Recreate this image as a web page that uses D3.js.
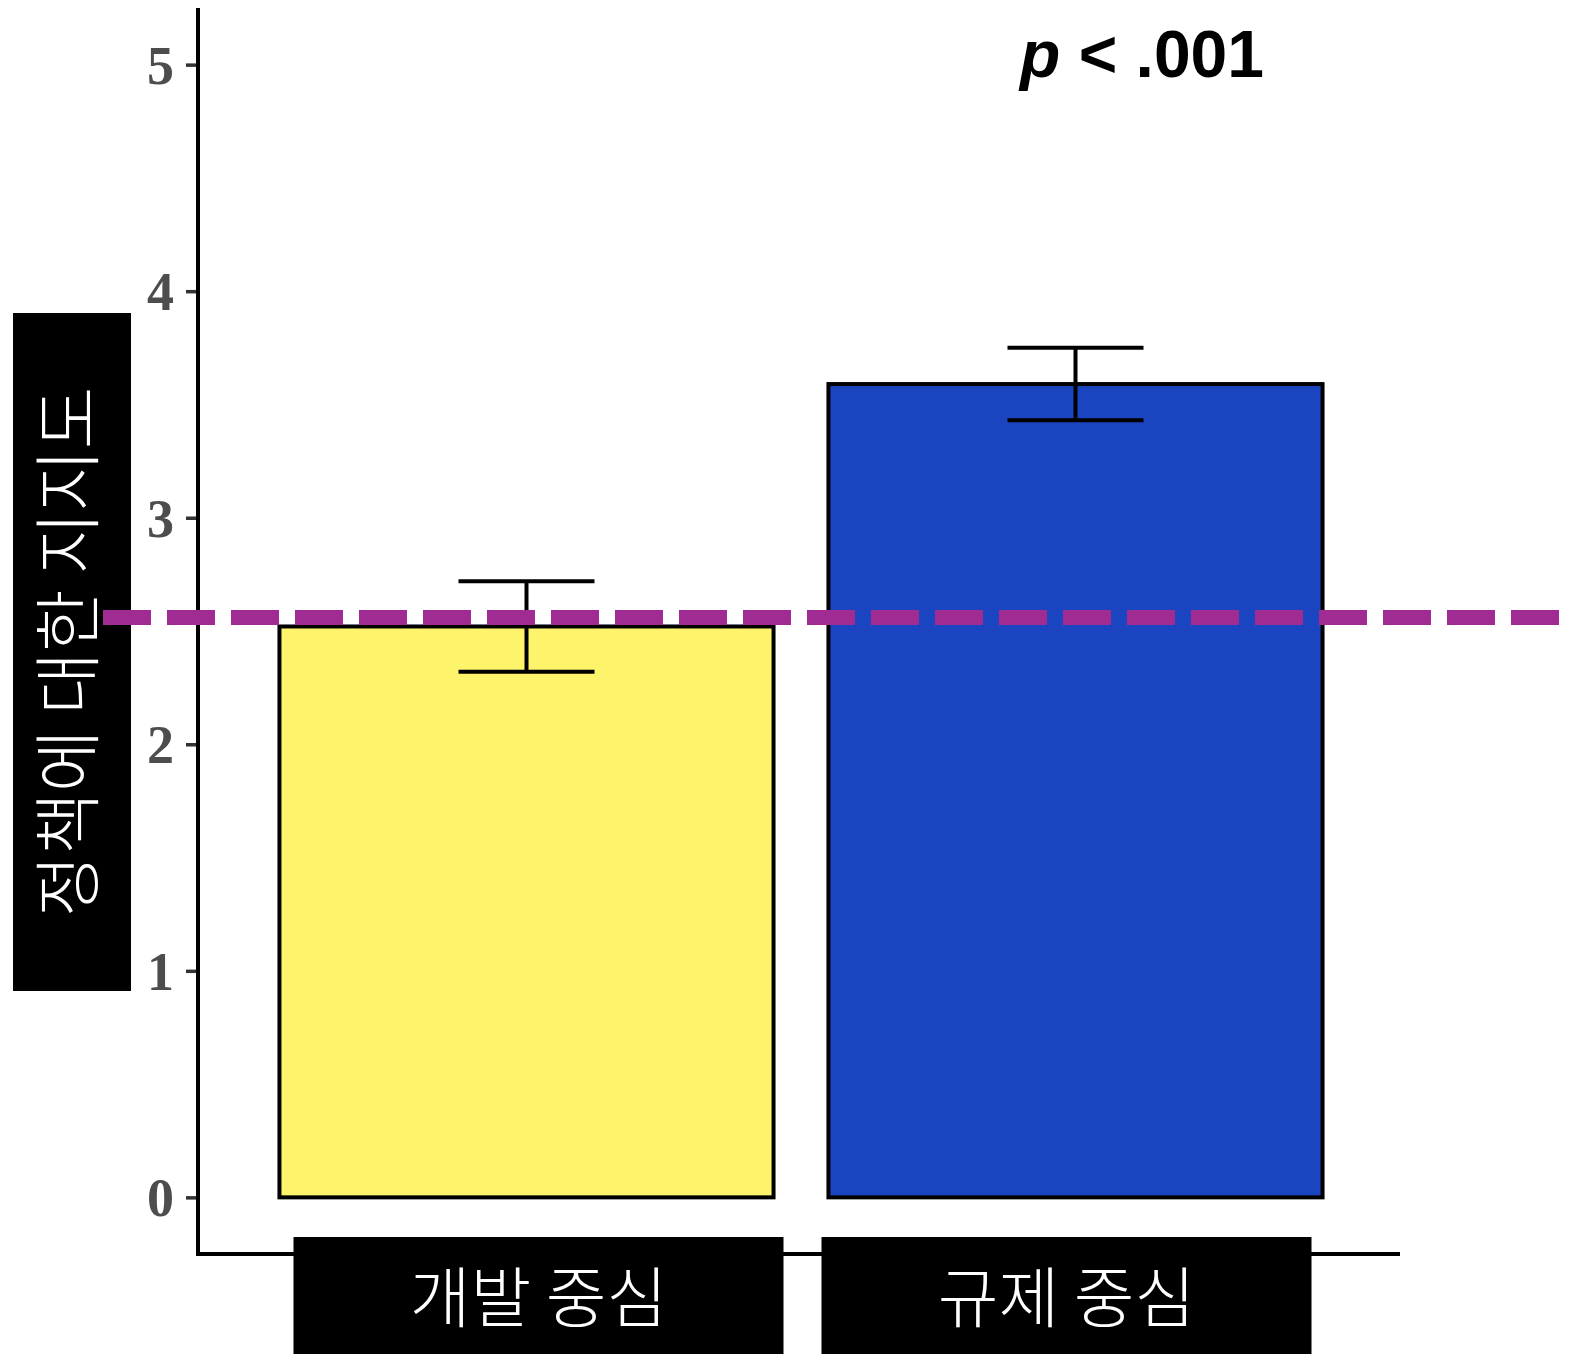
<!DOCTYPE html>
<html>
<head>
<meta charset="utf-8">
<script src="https://cdn.jsdelivr.net/npm/d3@7"></script>
<style>
  body { margin: 0; background: #fff; }
</style>
</head>
<body>
<script>
const categories = ['개발 중심', '규제 중심'];
const means = [2.52, 3.59];
const seLow = [2.32, 3.43];
const seHigh = [2.72, 3.75];
const barColors = ['#fdf46b', '#1b45c0'];
const yTicks = [0, 1, 2, 3, 4, 5];
const refLine = 2.56;
const yTitle = '정책에 대한 지지도';

const svg = d3.select('body').append('svg')
  .attr('width', 1570)
  .attr('height', 1354);

const y = d3.scaleLinear().domain([-0.25, 5.25]).range([1254, 8]);
const x = d3.scaleBand().domain(categories).range([252, 1350])
  .paddingInner(0.1).paddingOuter(0.05);

// bars
svg.selectAll('rect.bar')
  .data(categories)
  .enter()
  .append('rect')
  .attr('class', 'bar')
  .attr('x', d => x(d))
  .attr('y', (d, i) => y(means[i]))
  .attr('width', x.bandwidth())
  .attr('height', (d, i) => y(0) - y(means[i]))
  .attr('fill', (d, i) => barColors[i])
  .attr('stroke', '#000')
  .attr('stroke-width', 4);

// error bars
const capW = 68;
categories.forEach((c, i) => {
  const cx = x(c) + x.bandwidth() / 2;
  const g = svg.append('g').attr('stroke', '#000').attr('stroke-width', 4);
  g.append('line').attr('x1', cx).attr('x2', cx).attr('y1', y(seLow[i])).attr('y2', y(seHigh[i]));
  g.append('line').attr('x1', cx - capW).attr('x2', cx + capW).attr('y1', y(seLow[i])).attr('y2', y(seLow[i]));
  g.append('line').attr('x1', cx - capW).attr('x2', cx + capW).attr('y1', y(seHigh[i])).attr('y2', y(seHigh[i]));
});

// axes
const yAxis = svg.append('g')
  .attr('transform', 'translate(198,0)')
  .call(d3.axisLeft(y).tickValues(yTicks).tickSize(12).tickPadding(12).tickFormat(d3.format('d')));
yAxis.select('.domain').remove();
yAxis.selectAll('.tick line').attr('stroke', '#333').attr('stroke-width', 3.5);
yAxis.selectAll('.tick text')
  .attr('fill', '#4d4d4d')
  .style('font-family', '"Liberation Serif", "Times New Roman", serif')
  .style('font-weight', 'bold')
  .style('font-size', '54px')
  .attr('dy', '0.34em');

svg.append('path')
  .attr('d', `M198,${y(5.25)}V${y(-0.25)}H1400`)
  .attr('fill', 'none')
  .attr('stroke', '#000')
  .attr('stroke-width', 4);

// y title box
svg.append('rect')
  .attr('x', 13).attr('y', 313).attr('width', 118).attr('height', 678)
  .attr('fill', '#000');
svg.append('text')
  .attr('transform', 'translate(93,652) rotate(-90)')
  .attr('text-anchor', 'middle')
  .attr('fill', '#fff')
  .style('font-family', '"Noto Sans CJK KR", sans-serif')
  .style('font-size', '68px')
  .style('font-weight', 300)
  .text(yTitle);

// reference dashed line
svg.append('line')
  .attr('x1', 103).attr('x2', 1570)
  .attr('y1', y(refLine)).attr('y2', y(refLine))
  .attr('stroke', '#a02b93')
  .attr('stroke-width', 15)
  .attr('stroke-dasharray', '48,16');

// x label boxes
const boxShift = [12, -9];
categories.forEach((c, i) => {
  const cx = x(c) + x.bandwidth() / 2 + boxShift[i];
  svg.append('rect')
    .attr('x', cx - 245).attr('y', 1237).attr('width', 490).attr('height', 117)
    .attr('fill', '#000');
  svg.append('text')
    .attr('x', cx).attr('y', 1322)
    .attr('text-anchor', 'middle')
    .attr('fill', '#fff')
    .style('font-family', '"Noto Sans CJK KR", sans-serif')
    .style('font-size', '66px')
    .style('font-weight', 300)
    .text(c);
});

// p value
const pText = svg.append('text')
  .attr('x', 1142).attr('y', 77)
  .attr('text-anchor', 'middle')
  .style('font-family', '"Liberation Sans", Arial, sans-serif')
  .style('font-weight', 'bold')
  .style('font-size', '66px')
  .attr('fill', '#000');
pText.append('tspan').style('font-style', 'italic').text('p');
pText.append('tspan').text(' < .001');
</script>
</body>
</html>
